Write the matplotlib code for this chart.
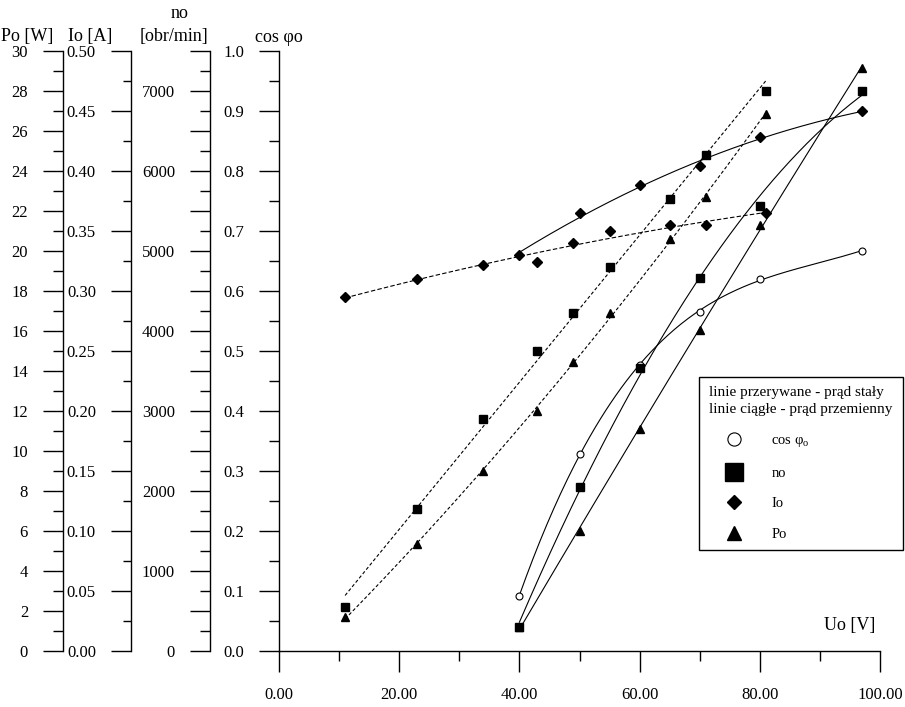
import numpy as np
import matplotlib
matplotlib.use("Agg")
import matplotlib.pyplot as plt
from matplotlib.lines import Line2D
from matplotlib.ticker import MultipleLocator, FuncFormatter

plt.rcParams['font.family'] = ['Liberation Serif', 'DejaVu Serif']
plt.rcParams['mathtext.fontset'] = 'custom'
plt.rcParams['mathtext.rm'] = 'Liberation Serif'

# prad staly (linie przerywane)
u_dc = [11, 23, 34, 43, 49, 55, 65, 71, 81]
n_dc = [550, 1775, 2900, 3750, 4225, 4800, 5650, 6200, 7000]
p_dc = [1.7, 5.35, 9.0, 12.0, 14.45, 16.9, 20.6, 22.7, 26.85]
i_dc = [0.295, 0.31, 0.322, 0.324, 0.34, 0.35, 0.355, 0.355, 0.365]

# prad przemienny (linie ciagle)
u_ac = [40, 50, 60, 70, 80, 97]
n_ac = [300, 2050, 3540, 4660, 5560, 7000]
p_ac = [1.2, 6.0, 11.1, 16.05, 21.3, 29.15]
i_ac = [0.33, 0.365, 0.388, 0.404, 0.428, 0.45]
cos_ac = [0.092, 0.328, 0.477, 0.565, 0.62, 0.667]

W, H = 905, 707
fig = plt.figure(figsize=(W / 100, H / 100), dpi=100)
rect = [279 / W, (H - 651) / H, 601 / W, 600 / H]

TS = 12        # tick label size
MAJ, MIN, PAD = 14.4, 7.2, 10.8


def side_axis(ax, pos, top, major, minor, fmt, minlen=MIN):
    ax.set_ylim(0, top)
    ax.patch.set_visible(False)
    for s in ('top', 'right', 'bottom'):
        ax.spines[s].set_visible(False)
    ax.spines['left'].set_position(('axes', pos))
    ax.spines['left'].set_linewidth(1.0)
    ax.xaxis.set_visible(False)
    ax.yaxis.set_ticks_position('left')
    ax.yaxis.set_major_locator(MultipleLocator(major))
    ax.yaxis.set_minor_locator(MultipleLocator(minor))
    ax.yaxis.set_major_formatter(FuncFormatter(fmt))
    ax.tick_params(axis='y', which='major', direction='out', length=MAJ,
                   width=1.0, pad=PAD, labelsize=TS)
    ax.tick_params(axis='y', which='minor', direction='out', length=minlen,
                   width=1.0)


ax = fig.add_axes(rect)  # cos axis + U axis
side_axis(ax, 0, 1.0, 0.1, 0.05, lambda v, p: f"{v:.1f}")
ax.spines['bottom'].set_visible(True)
ax.spines['bottom'].set_linewidth(1.0)
ax.xaxis.set_visible(True)
ax.set_xlim(0, 100)
ax.xaxis.set_major_locator(MultipleLocator(20))
ax.xaxis.set_minor_locator(MultipleLocator(10))
ax.xaxis.set_major_formatter(FuncFormatter(lambda v, p: f"{v:.2f}"))
ax.tick_params(axis='x', which='major', direction='out', length=15,
               width=1.0, pad=PAD, labelsize=TS)
ax.tick_params(axis='x', which='minor', direction='out', length=7.5, width=1.0)

ax_n = fig.add_axes(rect, sharex=ax)
side_axis(ax_n, -0.1148, 7500, 500, 250,
          lambda v, p: f"{v:.0f}" if round(v) % 1000 == 0 else "")
ax_i = fig.add_axes(rect, sharex=ax)
side_axis(ax_i, -0.2463, 0.5, 0.05, 0.025, lambda v, p: f"{v:.2f}", minlen=5.8)
ax_p = fig.add_axes(rect, sharex=ax)
side_axis(ax_p, -0.3594, 30, 2, 1, lambda v, p: f"{v:.0f}")


def trend(a, u, v, deg, dashes=None):
    c = np.polyfit(u, v, deg)
    uu = np.linspace(min(u), max(u), 200)
    kw = dict(color='black', lw=0.8)
    if dashes:
        kw['dashes'] = dashes
    a.plot(uu, np.polyval(c, uu), **kw)


sq = dict(ls='none', marker='s', ms=6.3, color='black')
tri = dict(ls='none', marker='^', ms=6.3, color='black')
dia = dict(ls='none', marker='D', ms=4.6, color='black')
circ = dict(ls='none', marker='o', ms=5, mfc='white', mec='black', mew=0.8)

# prad staly
trend(ax_n, u_dc, n_dc, 1, dashes=(3, 2))
trend(ax_p, u_dc, p_dc, 2, dashes=(3, 2))
trend(ax_i, u_dc, i_dc, 2, dashes=(4, 2))
ax_n.plot(u_dc, n_dc, **sq)
ax_p.plot(u_dc, p_dc, **tri)
ax_i.plot(u_dc, i_dc, **dia)

# prad przemienny
trend(ax_n, u_ac, n_ac, 2)
trend(ax_p, u_ac, p_ac, 2)
trend(ax_i, u_ac, i_ac, 2)
trend(ax, u_ac, cos_ac, 3)
ax_n.plot(u_ac, n_ac, **sq)
ax_p.plot(u_ac, p_ac, **tri)
ax_i.plot(u_ac, i_ac, **dia)
ax.plot(u_ac, cos_ac, **circ)

ax.text(0.95, 0.043, "Uo [V]", transform=ax.transAxes, ha='center',
        va='center', fontsize=13)

# naglowki osi
hy = 1 - 36 / H
fig.text(1 / W, hy, "Po [W]", ha='left', va='center', fontsize=13)
fig.text(68 / W, hy, "Io [A]", ha='left', va='center', fontsize=13)
fig.text(140 / W, hy, "[obr/min]", ha='left', va='center', fontsize=13)
fig.text(180 / W, 1 - 14 / H, "no", ha='center', va='center', fontsize=13)
fig.text(255 / W, 1 - 38 / H, "cos φo", ha='left', va='center', fontsize=13)

handles = [
    Line2D([], [], ls='none', marker='o', ms=9.5, mfc='white', mec='black', mew=0.8),
    Line2D([], [], ls='none', marker='s', ms=13, color='black'),
    Line2D([], [], ls='none', marker='D', ms=7, color='black'),
    Line2D([], [], ls='none', marker='^', ms=10, color='black'),
]
labels = ["cos φ$_\\mathregular{o}$", "no", "Io", "Po"]
leg = fig.legend(handles, labels,
                 title="linie przerywane - prąd stały\nlinie ciągłe - prąd przemienny",
                 loc='upper left', bbox_to_anchor=(699 / W, 1 - 377 / H, 204 / W, 0),
                 mode='expand', fontsize=10.5, title_fontsize=11,
                 frameon=True, fancybox=False, framealpha=1, edgecolor='black',
                 borderpad=0.6, handlelength=3.6, handletextpad=0.75,
                 labelspacing=1.2, borderaxespad=0)
leg.get_frame().set_linewidth(1.0)
leg.get_title().set_linespacing(1.45)

fig.savefig("out.png", dpi=100)
